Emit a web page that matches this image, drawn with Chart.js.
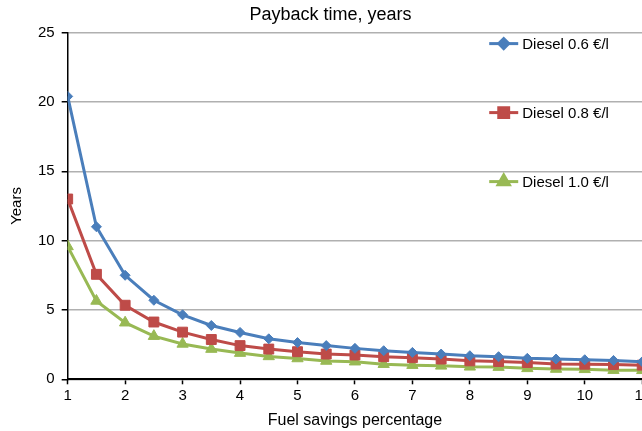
<!DOCTYPE html>
<html>
<head>
<meta charset="utf-8">
<script src="https://cdn.jsdelivr.net/npm/chart.js@4/dist/chart.umd.min.js"></script>
<style>
  html, body { margin: 0; padding: 0; background: #fff; overflow: hidden; }
  #wrap { position: relative; width: 653px; height: 431px; }
</style>
</head>
<body>
<div id="wrap"><canvas id="c"></canvas></div>
<script>
// Fuel savings percentage (x) and payback time in years for three diesel prices
const savings = [1, 1.5, 2, 2.5, 3, 3.5, 4, 4.5, 5, 5.5, 6, 6.5, 7, 7.5, 8, 8.5, 9, 9.5, 10, 10.5, 11];
const diesel06 = [20.4, 11.0, 7.5, 5.7, 4.65, 3.88, 3.38, 2.92, 2.65, 2.43, 2.23, 2.06, 1.94, 1.82, 1.70, 1.63, 1.51, 1.46, 1.41, 1.36, 1.27];
const diesel08 = [13.0, 7.57, 5.34, 4.13, 3.40, 2.87, 2.43, 2.18, 1.99, 1.82, 1.75, 1.63, 1.56, 1.46, 1.33, 1.28, 1.21, 1.10, 1.09, 1.06, 1.02];
const diesel10 = [9.58, 5.65, 4.08, 3.11, 2.55, 2.18, 1.89, 1.65, 1.50, 1.32, 1.27, 1.09, 1.02, 0.97, 0.90, 0.88, 0.79, 0.74, 0.72, 0.66, 0.65];
const seriesNames = ['Diesel 0.6 €/l', 'Diesel 0.8 €/l', 'Diesel 1.0 €/l'];
const yTicks = [0, 5, 10, 15, 20, 25];

const FONT = "'Liberation Sans', Arial, Helvetica, sans-serif";

const toPoints = vals => vals.map((v, i) => ({ x: savings[i], y: v }));

function series(label, vals, color, style, radius) {
  return {
    label,
    data: toPoints(vals),
    borderColor: color,
    backgroundColor: color,
    borderWidth: 3,
    pointStyle: style,
    pointRadius: radius,
    pointHoverRadius: radius,
    pointBorderWidth: 1,
    tension: 0
  };
}

// Legend entries stacked inside the plot, each aligned near a gridline band
const innerLegend = {
  id: 'innerLegend',
  afterDatasetsDraw(chart) {
    const { ctx, chartArea } = chart;
    const right = chartArea.right;
    ctx.save();
    chart.data.datasets.forEach((ds, i) => {
      const y = chartArea.top + 11 + i * 69;
      const x0 = right - 153, x1 = right - 124;
      ctx.strokeStyle = ds.borderColor;
      ctx.lineWidth = 3;
      ctx.beginPath();
      ctx.moveTo(x0, y);
      ctx.lineTo(x1, y);
      ctx.stroke();
      ctx.fillStyle = ds.backgroundColor;
      Chart.helpers.drawPoint(ctx, {
        pointStyle: ds.pointStyle,
        radius: ds.pointRadius,
        rotation: 0,
        borderWidth: 1
      }, (x0 + x1) / 2, y);
      ctx.fillStyle = '#000';
      ctx.font = '15px ' + FONT;
      ctx.textAlign = 'left';
      ctx.textBaseline = 'middle';
      ctx.fillText(ds.label, right - 120, y + 1);
    });
    ctx.restore();
  }
};

new Chart(document.getElementById('c'), {
  type: 'line',
  data: {
    datasets: [
      series(seriesNames[0], diesel06, '#4A7EBB', 'rectRot', 5),
      series(seriesNames[1], diesel08, '#BE4B48', 'rect', 7),
      series(seriesNames[2], diesel10, '#98B954', 'triangle', 6.5)
    ]
  },
  options: {
    responsive: true,
    maintainAspectRatio: false,
    animation: false,
    layout: { padding: { left: 8, right: 0, top: 0, bottom: 0 } },
    plugins: {
      legend: { display: false },
      tooltip: { enabled: false },
      title: {
        display: true,
        text: 'Payback time, years',
        color: '#000',
        font: { family: FONT, size: 18, weight: 'normal' },
        padding: { top: 4, bottom: 7 }
      }
    },
    scales: {
      x: {
        type: 'linear',
        min: 1,
        max: 11,
        border: { color: '#000', width: 2 },
        grid: { drawOnChartArea: false, tickLength: 5, tickColor: '#000', tickWidth: 1.5 },
        ticks: {
          stepSize: 1,
          color: '#000',
          padding: 3,
          maxRotation: 0,
          font: { family: FONT, size: 15 }
        },
        title: {
          display: true,
          text: 'Fuel savings percentage',
          color: '#000',
          font: { family: FONT, size: 16 },
          padding: { top: 3, bottom: 0.5 }
        }
      },
      y: {
        min: yTicks[0],
        max: yTicks[yTicks.length - 1],
        afterBuildTicks: axis => { axis.ticks = yTicks.map(v => ({ value: v })); },
        border: { color: '#000', width: 1.5 },
        grid: { color: '#B0B0B0', lineWidth: 1.5, tickLength: 6, tickColor: '#000' },
        ticks: {
          color: '#000',
          padding: 7,
          font: { family: FONT, size: 15 }
        },
        title: {
          display: true,
          text: 'Years',
          color: '#000',
          font: { family: FONT, size: 15 },
          padding: { top: 0, bottom: 5 }
        }
      }
    }
  },
  plugins: [innerLegend]
});
</script>
</body>
</html>
